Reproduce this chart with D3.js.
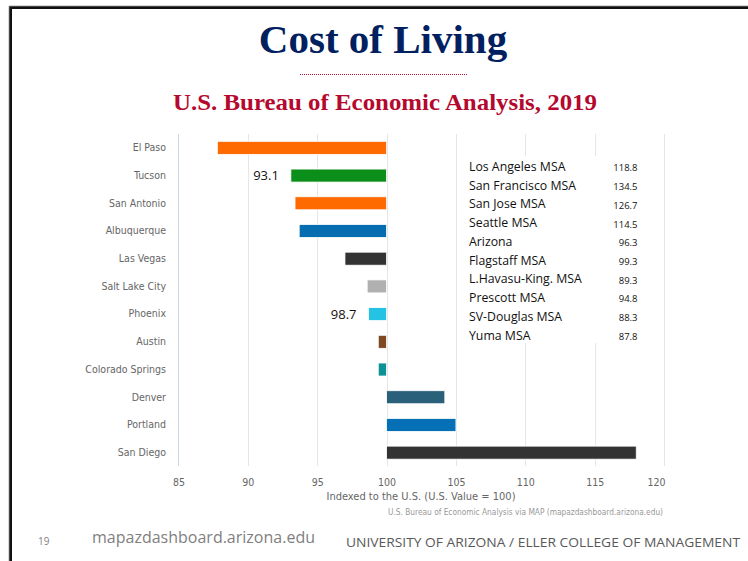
<!DOCTYPE html>
<html><head><meta charset="utf-8">
<script src="https://cdn.jsdelivr.net/npm/d3@7"></script>
<style>body{margin:0;background:#fff;}svg{display:block;}</style>
</head><body>
<script>
const categories = ["El Paso","Tucson","San Antonio","Albuquerque","Las Vegas","Salt Lake City","Phoenix","Austin","Colorado Springs","Denver","Portland","San Diego"];
const values = [87.8,93.1,93.4,93.7,97.0,98.6,98.7,99.4,99.4,104.2,105.0,118.0];
const barColors = ["#ff6a00","#0b8e1a","#ff6a00","#066eb0","#333333","#b0b0b0","#25c3e3","#7f4a22","#0a9296","#2a6079","#0570b5","#333333"];
const annotated = ["Tucson","Phoenix"];
const xTicks = [85,90,95,100,105,110,115,120];
const tableNames = ["Los Angeles MSA","San Francisco MSA","San Jose MSA","Seattle MSA","Arizona","Flagstaff MSA","L.Havasu-King. MSA","Prescott MSA","SV-Douglas MSA","Yuma MSA"];
const tableValues = [118.8,134.5,126.7,114.5,96.3,99.3,89.3,94.8,88.3,87.8];

const W = 748, H = 561;
const svg = d3.select("body").append("svg").attr("width", W).attr("height", H);
const sans = "'DejaVu Sans Condensed','DejaVu Sans',sans-serif";
const cal = "'Open Sans','Noto Sans',sans-serif";

// slide frame
svg.append("path").attr("d","M10.5,561V7.5H748").attr("fill","none").attr("stroke","#111").attr("stroke-width",3);
svg.append("path").attr("d","M9,561V6H748").attr("fill","none").attr("stroke","#999").attr("stroke-width",0.8);

// titles
svg.append("text").attr("x",383).attr("y",53).attr("text-anchor","middle")
  .attr("font-family","'Liberation Serif','Times New Roman',serif").attr("font-weight","bold")
  .attr("font-size",41).attr("fill","#002060").text("Cost of Living");
svg.append("line").attr("x1",300).attr("x2",468).attr("y1",74.5).attr("y2",74.5)
  .attr("stroke","#c0143c").attr("stroke-width",1).attr("stroke-dasharray","1,1");
svg.append("text").attr("x",173).attr("y",110)
  .attr("font-family","'Liberation Serif','Times New Roman',serif").attr("font-weight","bold")
  .attr("font-size",23.5).attr("fill","#b5082e")
  .attr("textLength",424).attr("lengthAdjust","spacingAndGlyphs")
  .text("U.S. Bureau of Economic Analysis, 2019");

// scales
const x = d3.scaleLinear().domain([85,120]).range([178.5,664]);
const y = d3.scaleBand().domain(categories).range([134,466.5]).paddingInner(0.53).paddingOuter(0.265);

// gridlines
svg.append("g").selectAll("line").data(xTicks.slice(1)).join("line")
  .attr("x1",d=>Math.round(x(d))+0.5).attr("x2",d=>Math.round(x(d))+0.5)
  .attr("y1",134).attr("y2",466).attr("stroke","#e6e6e6").attr("stroke-width",1);

// x axis
const xa = svg.append("g").attr("transform","translate(0,466)")
  .call(d3.axisBottom(x).tickValues(xTicks).tickSize(0).tickPadding(13));
xa.select(".domain").remove();
xa.selectAll("text").attr("font-family",sans).attr("font-size",10.5).attr("fill","#666")
  .attr("text-anchor",(d,i)=>i===xTicks.length-1?"end":"middle")
  .attr("dx",(d,i)=>i===xTicks.length-1?1:0);

// y axis
const ya = svg.append("g").attr("transform","translate(178.5,0)")
  .call(d3.axisLeft(y).tickSize(0).tickPadding(12.5));
ya.select(".domain").attr("stroke","#ccd6eb").attr("d","M0,134V466");
ya.selectAll("text").attr("font-family",sans).attr("font-size",10.5).attr("fill","#666");

// bars
svg.append("g").selectAll("rect").data(categories).join("rect")
  .attr("x",(d,i)=>x(Math.min(values[i],100)))
  .attr("width",(d,i)=>Math.abs(x(values[i])-x(100)))
  .attr("y",d=>y(d)).attr("height",y.bandwidth())
  .attr("fill",(d,i)=>barColors[i]).attr("stroke","#fff").attr("stroke-width",0.8);

// annotations
svg.append("g").selectAll("text").data(annotated).join("text")
  .attr("x",d=>x(values[categories.indexOf(d)])-12)
  .attr("y",d=>y(d)+y.bandwidth()/2).attr("dy","0.35em")
  .attr("text-anchor","end").attr("font-family",cal).attr("font-size",13).attr("fill","#111")
  .text(d=>values[categories.indexOf(d)].toFixed(1));

// table box
svg.append("rect").attr("x",461).attr("y",156).attr("width",194).attr("height",187).attr("fill","#fff");
const tg = svg.append("g");
tg.selectAll("text.n").data(tableNames).join("text").attr("class","n")
  .attr("x",469).attr("y",(d,i)=>166.7+i*18.73).attr("dy","0.35em")
  .attr("font-family",cal).attr("font-size",12.3).attr("fill","#111").text(d=>d);
tg.selectAll("text.v").data(tableValues).join("text").attr("class","v")
  .attr("x",637.5).attr("y",(d,i)=>168+i*18.73).attr("dy","0.35em").attr("text-anchor","end")
  .attr("font-family",cal).attr("font-size",9.5).attr("fill","#111").text(d=>d.toFixed(1));

// axis title & credits
svg.append("text").attr("x",421).attr("y",496).attr("dy","0.35em").attr("text-anchor","middle")
  .attr("font-family",sans).attr("font-size",11).attr("fill","#666")
  .text("Indexed to the U.S. (U.S. Value = 100)");
svg.append("text").attr("x",663).attr("y",512).attr("dy","0.35em").attr("text-anchor","end")
  .attr("font-family",sans).attr("font-size",8).attr("fill","#999")
  .attr("textLength",275).attr("lengthAdjust","spacingAndGlyphs")
  .text("U.S. Bureau of Economic Analysis via MAP (mapazdashboard.arizona.edu)");

// footer
svg.append("text").attr("x",38).attr("y",545).attr("font-family",cal).attr("font-size",10).attr("fill","#7f7f7f").text("19");
svg.append("text").attr("x",92).attr("y",543).attr("font-family",cal).attr("font-size",15.5).attr("fill","#7f7f7f")
  .attr("textLength",223).attr("lengthAdjust","spacingAndGlyphs").text("mapazdashboard.arizona.edu");
svg.append("text").attr("x",346).attr("y",547).attr("font-family",cal).attr("font-size",13).attr("fill","#595959")
  .attr("textLength",394).attr("lengthAdjust","spacingAndGlyphs").text("UNIVERSITY OF ARIZONA / ELLER COLLEGE OF MANAGEMENT");
</script>
</body></html>
